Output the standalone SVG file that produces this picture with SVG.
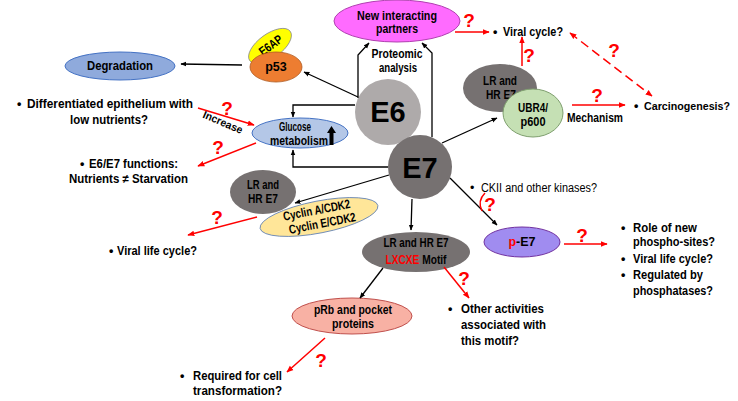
<svg xmlns="http://www.w3.org/2000/svg" width="738" height="401" viewBox="0 0 738 401">
<defs>
<marker id="ab" viewBox="0 0 10 10" refX="9" refY="5" markerWidth="6" markerHeight="6" orient="auto-start-reverse" markerUnits="userSpaceOnUse"><path d="M0,1 L10,5 L0,9 z" fill="#000"/></marker>
<marker id="ar" viewBox="0 0 10 10" refX="9" refY="5" markerWidth="7" markerHeight="7" orient="auto-start-reverse" markerUnits="userSpaceOnUse"><path d="M0,1 L10,5 L0,9 z" fill="#FF0000"/></marker>
<style>
text{font-family:"Liberation Sans",Arial,sans-serif;font-weight:bold;font-size:12.5px;fill:#000}
.c{text-anchor:middle}
.q{fill:#FF0000;font-size:19px;text-anchor:middle}
.blk{fill:none;stroke:#000;stroke-width:1.3;marker-end:url(#ab)}
.red{fill:none;stroke:#FF0000;stroke-width:1.5;marker-end:url(#ar)}
.n{font-weight:normal}
</style>
</defs>
<rect width="738" height="401" fill="#fff"/>

<g id="partners"><ellipse cx="397" cy="21" rx="63" ry="21" fill="#FF6BFF" stroke="#B040B0" stroke-width="1"/><text class="c" x="397" y="20" textLength="80" lengthAdjust="spacingAndGlyphs">New interacting</text><text class="c" x="397" y="33" textLength="42" lengthAdjust="spacingAndGlyphs">partners</text></g>
<g id="degradation"><ellipse cx="120" cy="66" rx="55" ry="14" fill="#8FAADC" stroke="#4472C4" stroke-width="1"/><text class="c" x="120" y="70" textLength="66" lengthAdjust="spacingAndGlyphs">Degradation</text></g>
<g id="e6ap"><g transform="rotate(-36 270 46)"><ellipse cx="270" cy="46" rx="25" ry="12" fill="#FFFF00" stroke="#8C8C8C" stroke-width="0.8"/><text class="c" x="271" y="50" textLength="26" lengthAdjust="spacingAndGlyphs">E6AP</text></g></g>
<g id="p53"><ellipse cx="276" cy="67" rx="26" ry="15" fill="#ED7D31" stroke="#AE5A21" stroke-width="0.8"/><text class="c" x="276" y="71">p53</text></g>
<g id="glucose"><ellipse cx="300" cy="133" rx="48" ry="15" fill="#B4C7E7" stroke="#4472C4" stroke-width="1"/><text class="c" x="295" y="131" textLength="32" lengthAdjust="spacingAndGlyphs">Glucose</text><text class="c" x="299" y="145" textLength="58" lengthAdjust="spacingAndGlyphs">metabolism</text><polygon points="331.5,126 336,133 333.5,133 333.5,145 329.5,145 329.5,133 327,133" fill="#000"/></g>
<g id="e6"><circle cx="388" cy="112" r="33" fill="#AEAAAA"/><text class="c" x="388" y="122" style="font-size:29px">E6</text></g>
<g id="e7"><circle cx="420" cy="167" r="32" fill="#767171"/><text class="c" x="420" y="178" style="font-size:29px">E7</text></g>
<g id="lr-ubr"><ellipse cx="500" cy="88" rx="37" ry="24" fill="#767171"/><text class="c" x="500" y="85" textLength="34" lengthAdjust="spacingAndGlyphs">LR and</text><text class="c" x="501" y="99" textLength="30" lengthAdjust="spacingAndGlyphs">HR E7</text></g>
<g id="ubr4"><ellipse cx="533" cy="113" rx="30" ry="24" fill="#C5E0B4" stroke="#7F9F6F" stroke-width="1"/><text class="c" x="533" y="112" textLength="30" lengthAdjust="spacingAndGlyphs">UBR4/</text><text class="c" x="533" y="126" textLength="25" lengthAdjust="spacingAndGlyphs">p600</text></g>
<g id="lr-cyclin"><ellipse cx="263" cy="192" rx="33" ry="22" fill="#767171"/><text class="c" x="263" y="189" textLength="32" lengthAdjust="spacingAndGlyphs">LR and</text><text class="c" x="263" y="203" textLength="30" lengthAdjust="spacingAndGlyphs">HR E7</text></g>
<g id="cyclin"><g transform="rotate(-11 319 217)"><ellipse cx="319" cy="217" rx="60" ry="16" fill="#FFE699" stroke="#5B7DB5" stroke-width="0.8"/><text class="c" x="318" y="214" textLength="68" lengthAdjust="spacingAndGlyphs">Cyclin A/CDK2</text><text class="c" x="321" y="228" textLength="68" lengthAdjust="spacingAndGlyphs">Cyclin E/CDK2</text></g></g>
<g id="pe7"><ellipse cx="522" cy="242" rx="38" ry="15" fill="#A08CF0" stroke="#7030A0" stroke-width="1"/><text class="c" x="522" y="246"><tspan fill="#FF0000">p</tspan>-E7</text></g>
<g id="motif"><ellipse cx="416" cy="252" rx="54" ry="20" fill="#767171"/><text class="c" x="416" y="247" textLength="65" lengthAdjust="spacingAndGlyphs">LR and HR E7</text><text class="c" x="416" y="264" textLength="61" lengthAdjust="spacingAndGlyphs"><tspan fill="#FF0000">LXCXE</tspan> Motif</text></g>
<g id="prb"><ellipse cx="352" cy="316" rx="60" ry="18" fill="#F8B1A4" stroke="#C0504D" stroke-width="1"/><text class="c" x="353" y="314" textLength="78" lengthAdjust="spacingAndGlyphs">pRb and pocket</text><text class="c" x="353" y="328" textLength="42" lengthAdjust="spacingAndGlyphs">proteins</text></g>

<g id="texts">
<text class="c" x="397" y="58" textLength="51" lengthAdjust="spacingAndGlyphs">Proteomic</text>
<text class="c" x="398" y="72" textLength="38" lengthAdjust="spacingAndGlyphs">analysis</text>
<text x="493" y="36">•</text><text x="503" y="36" textLength="60" lengthAdjust="spacingAndGlyphs">Viral cycle?</text>
<text class="c" x="595" y="122" textLength="56" lengthAdjust="spacingAndGlyphs">Mechanism</text>
<text x="634" y="110">•</text><text x="644" y="110" style="font-size:11.5px" textLength="86" lengthAdjust="spacingAndGlyphs">Carcinogenesis?</text>
<text x="17" y="108">•</text><text x="27" y="108" textLength="166" lengthAdjust="spacingAndGlyphs">Differentiated epithelium with</text>
<text class="c" x="109" y="124" textLength="78" lengthAdjust="spacingAndGlyphs">low nutrients?</text>
<text x="80" y="168">•</text><text x="89" y="168" textLength="89" lengthAdjust="spacingAndGlyphs">E6/E7 functions:</text>
<text x="69" y="183" textLength="119" lengthAdjust="spacingAndGlyphs">Nutrients ≠ Starvation</text>
<text class="c" transform="rotate(23 223 122)" x="223" y="126" style="font-size:11px" textLength="42" lengthAdjust="spacingAndGlyphs">Increase</text>
<text x="470" y="192" class="n">•</text><text x="481" y="192" class="n" textLength="116" lengthAdjust="spacingAndGlyphs">CKII and other kinases?</text>
<text x="109" y="255">•</text><text x="117" y="255" textLength="80" lengthAdjust="spacingAndGlyphs">Viral life cycle?</text>
<text x="621" y="232">•</text><text x="633" y="232" textLength="64" lengthAdjust="spacingAndGlyphs">Role of new</text>
<text x="633" y="246" textLength="82" lengthAdjust="spacingAndGlyphs">phospho-sites?</text>
<text x="621" y="263">•</text><text x="633" y="263" textLength="80" lengthAdjust="spacingAndGlyphs">Viral life cycle?</text>
<text x="621" y="279">•</text><text x="633" y="279" textLength="70" lengthAdjust="spacingAndGlyphs">Regulated by</text>
<text x="633" y="295" textLength="80" lengthAdjust="spacingAndGlyphs">phosphatases?</text>
<text x="448" y="313">•</text><text x="461" y="313" textLength="83" lengthAdjust="spacingAndGlyphs">Other activities</text>
<text x="461" y="329" textLength="85" lengthAdjust="spacingAndGlyphs">associated with</text>
<text x="461" y="345" textLength="58" lengthAdjust="spacingAndGlyphs">this motif?</text>
<text x="180" y="380">•</text><text x="193" y="380" textLength="89" lengthAdjust="spacingAndGlyphs">Required for cell</text>
<text x="193" y="395" textLength="89" lengthAdjust="spacingAndGlyphs">transformation?</text>
<text class="q" x="469" y="27">?</text>
<text class="q" x="529" y="62">?</text>
<text class="q" x="614" y="57">?</text>
<text class="q" x="597" y="102">?</text>
<text class="q" x="227" y="115">?</text>
<text class="q" x="218" y="154">?</text>
<text class="q" x="217" y="224">?</text>
<text class="q" x="490" y="211">?</text>
<text class="q" x="582" y="242">?</text>
<text class="q" x="464" y="285">?</text>
<text class="q" x="321" y="367">?</text>
</g>

<g id="connectors">
<path class="blk" d="M358,98 V55 L369,43"/>
<path class="blk" d="M432,137 V53 L422,43"/>
<path class="blk" d="M355,105 H293 V117"/>
<path class="blk" d="M388,167 H293 V150"/>
<path class="blk" d="M358,97 L304,72"/>
<path class="blk" d="M242,65 L181,64"/>
<path class="blk" d="M442,143 L497,118"/>
<path class="blk" d="M389,175 L295,203"/>
<path class="blk" d="M412,199 L411,230"/>
<path class="blk" d="M450,178 L497,225"/>
<path class="blk" d="M383,268 L360,298"/>
<path class="red" d="M455,32 L489,32"/>
<path class="red" d="M522,66 L522,37"/>
<path class="red" d="M570,33 L652,96" stroke-dasharray="9,5" marker-start="url(#ar)"/>
<path class="red" d="M572,105 L625,105"/>
<path class="red" d="M198,108 L254,125"/>
<path class="red" d="M256,143 L198,166"/>
<path class="red" d="M257,217 L188,235"/>
<path d="M485,193 Q477,201 482,211" fill="none" stroke="#FF0000" stroke-width="1.5"/>
<path class="red" d="M564,244 L607,244"/>
<path class="red" d="M444,267 L469,298"/>
<path class="red" d="M325,338 L287,372"/>
</g>
</svg>
